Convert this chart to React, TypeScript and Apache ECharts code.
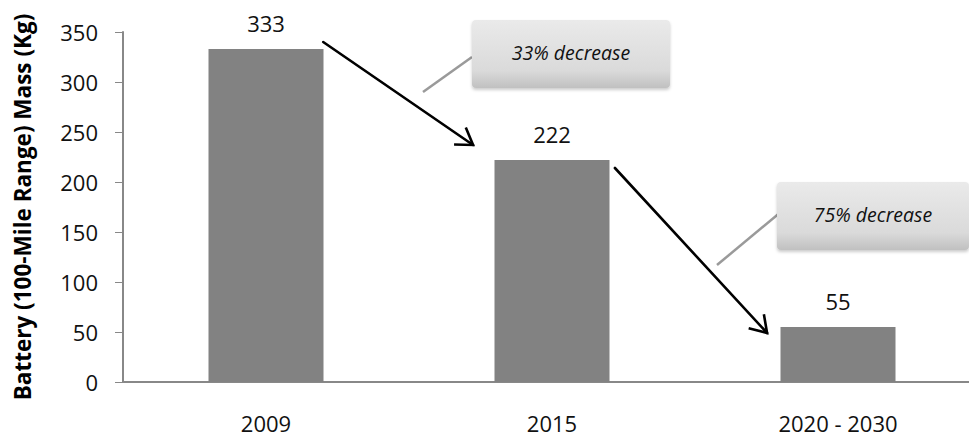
import React, { useEffect, useRef } from "react";
import * as echarts from "echarts";

const categories = ["2009", "2015", "2020 - 2030"];
const massValues = [333, 222, 55];
const yTicks = { min: 0, max: 350, interval: 50 };
const yTitle = "Battery (100-Mile Range) Mass (Kg)";
const calloutTexts = ["33% decrease", "75% decrease"];

const FONT = "'Open Sans', 'DejaVu Sans', sans-serif";

export default function App() {
  const ref = useRef<HTMLDivElement>(null);
  useEffect(() => {
    if (!ref.current) return;
    const chart = echarts.init(ref.current, undefined, { renderer: "svg" });
    const option: any = {
      animation: false,
      backgroundColor: "#ffffff",
      grid: { left: 123, right: -12, top: 32, bottom: 55, outerBoundsMode: "none", containLabel: false },
      xAxis: {
        type: "category",
        data: categories,
        axisLine: { show: true, lineStyle: { color: "#888888", width: 2 } },
        axisTick: { show: false },
        axisLabel: { color: "#111", fontFamily: FONT, fontSize: 22, margin: 30 },
      },
      yAxis: {
        type: "value",
        min: yTicks.min,
        max: yTicks.max,
        interval: yTicks.interval,
        name: yTitle,
        nameLocation: "middle",
        nameRotate: 90,
        nameGap: 89,
        nameTextStyle: { color: "#000", fontFamily: FONT, fontSize: 22.5, fontWeight: "bold" },
        axisLine: { show: true, lineStyle: { color: "#888888", width: 2 } },
        axisTick: { show: true, inside: false, length: 8, lineStyle: { color: "#888888" } },
        axisLabel: { color: "#111", fontFamily: FONT, fontSize: 22, margin: 25 },
        splitLine: { show: false },
      },
      series: [
        {
          type: "bar",
          data: massValues,
          barWidth: 115,
          itemStyle: { color: "#828282" },
          label: {
            show: true,
            position: "top",
            distance: 15,
            color: "#111",
            fontFamily: FONT,
            fontSize: 22,
          },
        },
      ],
    };
    chart.setOption(option);

    const c0 = chart.convertToPixel({ xAxisIndex: 0 }, 0) as number;
    const c1 = chart.convertToPixel({ xAxisIndex: 0 }, 1) as number;
    const band = c1 - c0;
    const px = (idx: number, val: number): [number, number] => [
      c0 + idx * band,
      chart.convertToPixel({ yAxisIndex: 0 }, val) as number,
    ];

    // arrows defined in (category position, value) space
    const arrows = [
      { from: [0.2, 340], to: [0.724, 237] },
      { from: [1.22, 214], to: [1.752, 49] },
    ];
    const graphics: any[] = [];
    arrows.forEach((a) => {
      const [x1, y1] = px(a.from[0], a.from[1]);
      const [x2, y2] = px(a.to[0], a.to[1]);
      const ang = Math.atan2(y1 - y2, x1 - x2);
      const L = 19;
      const h = (33 * Math.PI) / 180;
      const style = { stroke: "#000", lineWidth: 2.6, lineCap: "round" };
      graphics.push({ type: "line", shape: { x1, y1, x2, y2 }, style });
      graphics.push({
        type: "polyline",
        shape: {
          points: [
            [x2 + L * Math.cos(ang + h), y2 + L * Math.sin(ang + h)],
            [x2, y2],
            [x2 + L * Math.cos(ang - h), y2 + L * Math.sin(ang - h)],
          ],
        },
        style: { stroke: "#000", lineWidth: 2.6, fill: null, lineJoin: "miter" },
      });
    });

    const callouts = [
      { box: [472, 20, 198, 68], tail: [472, 57, 423, 92], text: calloutTexts[0] },
      { box: [777, 182, 192, 68], tail: [782, 211, 717, 265], text: calloutTexts[1] },
    ];
    callouts.forEach((c) => {
      graphics.push({
        type: "line",
        shape: { x1: c.tail[0], y1: c.tail[1], x2: c.tail[2], y2: c.tail[3] },
        style: { stroke: "#9a9a9a", lineWidth: 2.5 },
      });
      graphics.push({
        type: "rect",
        shape: { x: c.box[0], y: c.box[1], width: c.box[2], height: c.box[3], r: 4 },
        style: {
          fill: new echarts.graphic.LinearGradient(0, 0, 0, 1, [
            { offset: 0, color: "#eaeaea" },
            { offset: 0.75, color: "#dadada" },
            { offset: 1, color: "#c0c0c0" },
          ]),
          shadowBlur: 3,
          shadowColor: "rgba(0,0,0,0.2)",
          shadowOffsetY: 2,
        },
      });
      graphics.push({
        type: "text",
        x: c.box[0] + c.box[2] / 2,
        y: c.box[1] + 32,
        style: {
          text: c.text,
          fill: "#111",
          font: `italic 19.5px ${FONT}`,
          align: "center",
          verticalAlign: "middle",
        },
      });
    });
    chart.setOption({ graphic: graphics });

    return () => chart.dispose();
  }, []);
  return (
    <div
      ref={ref}
      style={{ position: "absolute", left: 0, top: 0, width: 969, height: 437 }}
    />
  );
}
